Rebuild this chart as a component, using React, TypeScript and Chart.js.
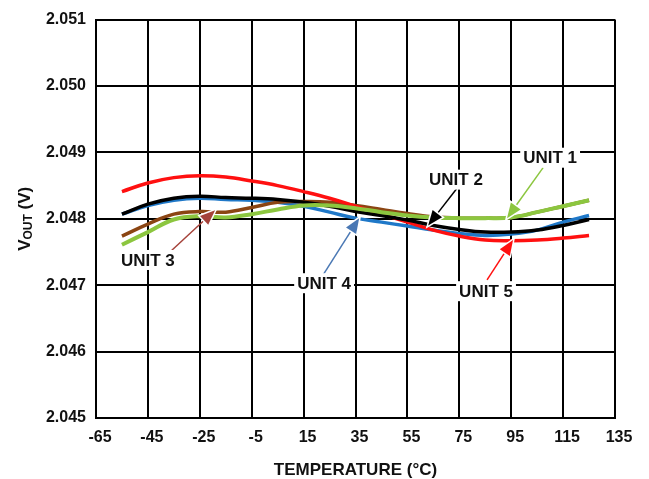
import React, { useEffect, useRef } from "react";
import { Chart, registerables } from "chart.js";

Chart.register(...registerables);

// Output voltage vs. temperature for five units
const temperatures = [-55, -45, -35, -25, -15, -5, 5, 15, 25, 35, 45, 55, 65, 75, 85, 95, 105, 115, 125];

const unit1 = [2.04761, 2.0478, 2.04799, 2.04804, 2.04802, 2.04807, 2.04814, 2.0482, 2.0482, 2.04816, 2.0481, 2.04805, 2.04802, 2.04801, 2.04801, 2.04802, 2.0481, 2.04819, 2.04828];
const unit2 = [2.04807, 2.04822, 2.04831, 2.04834, 2.04832, 2.04831, 2.04829, 2.04825, 2.04819, 2.04811, 2.04805, 2.04798, 2.0479, 2.04784, 2.0478, 2.0478, 2.04783, 2.0479, 2.04799];
const unit3 = [2.04774, 2.04792, 2.04807, 2.04811, 2.0481, 2.04817, 2.04825, 2.04826, 2.04825, 2.0482, 2.04814, 2.04808, 2.04803, 2.04801, 2.04801, 2.04802, 2.0481, 2.04819, 2.04828];
const unit4 = [2.04807, 2.0482, 2.04828, 2.04831, 2.04829, 2.04828, 2.04825, 2.04819, 2.0481, 2.04801, 2.04795, 2.04789, 2.04783, 2.04778, 2.04775, 2.04777, 2.04783, 2.04795, 2.04805];
const unit5 = [2.04841, 2.04854, 2.04862, 2.04865, 2.04863, 2.04857, 2.0485, 2.04841, 2.04831, 2.04819, 2.04807, 2.04795, 2.04783, 2.04774, 2.04768, 2.04767, 2.04768, 2.04771, 2.04775];

const xTicks = [-65, -45, -25, -5, 15, 35, 55, 75, 95, 115, 135];
const yTicks = [2.045, 2.046, 2.047, 2.048, 2.049, 2.05, 2.051];

// Callout labels: text, label centre, arrow tail, arrow tip (temperature, volts)
const calloutNames = ["UNIT 1", "UNIT 2", "UNIT 3", "UNIT 4", "UNIT 5"];
const calloutLabelAt = [[110, 2.04892], [73.7, 2.04859], [-45, 2.04738], [22.9, 2.04703], [85.3, 2.04691]];
const calloutTail = [[107.3, 2.04877], [74.5, 2.04848], [-36.5, 2.0475], [22.1, 2.04713], [85.7, 2.04708]];
const calloutTip = [[93.4, 2.04801], [63, 2.0479], [-19.1, 2.04813], [36.4, 2.04801], [95.7, 2.04768]];
const calloutColors = ["#8cc63f", "#000000", "#a5423a", "#4a78b4", "#ff1010"];

const FONT = '"Liberation Sans", Arial, Helvetica, sans-serif';

const calloutPlugin = {
  id: "callouts",
  afterDatasetsDraw(chart: any) {
    const { ctx } = chart;
    const xs = chart.scales.x;
    const ys = chart.scales.y;
    ctx.save();
    calloutNames.forEach((name, i) => {
      const color = calloutColors[i];
      const sx = xs.getPixelForValue(calloutTail[i][0]);
      const sy = ys.getPixelForValue(calloutTail[i][1]);
      const tx = xs.getPixelForValue(calloutTip[i][0]);
      const ty = ys.getPixelForValue(calloutTip[i][1]);
      const ang = Math.atan2(ty - sy, tx - sx);
      const dx = Math.cos(ang);
      const dy = Math.sin(ang);
      const L = 15;
      const W = 6;
      const bx = tx - dx * L;
      const by = ty - dy * L;
      // shaft
      ctx.strokeStyle = color;
      ctx.lineWidth = 1.5;
      ctx.beginPath();
      ctx.moveTo(sx, sy);
      ctx.lineTo(bx + dx * 2, by + dy * 2);
      ctx.stroke();
      // head
      ctx.beginPath();
      ctx.moveTo(tx, ty);
      ctx.lineTo(bx - dy * W, by + dx * W);
      ctx.lineTo(bx + dy * W, by - dx * W);
      ctx.closePath();
      ctx.strokeStyle = "#ffffff";
      ctx.lineWidth = 3;
      ctx.lineJoin = "miter";
      ctx.stroke();
      ctx.fillStyle = color;
      ctx.fill();

      // label with white backing
      const lx = xs.getPixelForValue(calloutLabelAt[i][0]);
      const ly = ys.getPixelForValue(calloutLabelAt[i][1]);
      ctx.font = `bold 17px ${FONT}`;
      const w = ctx.measureText(name).width;
      ctx.fillStyle = "#ffffff";
      ctx.fillRect(lx - w / 2 - 3, ly - 10, w + 6, 20);
      ctx.fillStyle = "#111111";
      ctx.textAlign = "center";
      ctx.textBaseline = "middle";
      ctx.fillText(name, lx, ly + 1);
    });
    ctx.restore();
  },
};

const axisTitlePlugin = {
  id: "axisTitles",
  afterDraw(chart: any) {
    const { ctx, chartArea } = chart;
    ctx.save();
    ctx.fillStyle = "#111111";
    // x title
    ctx.font = `bold 17px ${FONT}`;
    ctx.textAlign = "center";
    ctx.textBaseline = "alphabetic";
    ctx.fillText("TEMPERATURE (°C)", (chartArea.left + chartArea.right) / 2, 475);

    // y title with subscript, rotated
    const cy = (chartArea.top + chartArea.bottom) / 2;
    ctx.translate(30, cy);
    ctx.rotate(-Math.PI / 2);
    const big = `bold 17px ${FONT}`;
    const small = `bold 12px ${FONT}`;
    ctx.font = big;
    const wV = ctx.measureText("V").width;
    const wTail = ctx.measureText(" (V)").width;
    ctx.font = small;
    const wSub = ctx.measureText("OUT").width;
    const total = wV + wSub + wTail;
    let x0 = -total / 2;
    ctx.textAlign = "left";
    ctx.font = big;
    ctx.fillText("V", x0, 0);
    x0 += wV;
    ctx.font = small;
    ctx.fillText("OUT", x0, 2);
    x0 += wSub;
    ctx.font = big;
    ctx.fillText(" (V)", x0, 0);
    ctx.restore();
  },
};

export default function App() {
  const canvasRef = useRef<HTMLCanvasElement | null>(null);

  useEffect(() => {
    if (!canvasRef.current) return;
    const line = (label: string, data: number[], color: string, order: number, width = 3.5) => ({
      label,
      data: temperatures.map((t, i) => ({ x: t, y: data[i] })),
      borderColor: color,
      backgroundColor: color,
      borderWidth: width,
      pointRadius: 0,
      tension: 0.4,
      fill: false,
      order,
    });

    const chart = new Chart(canvasRef.current, {
      type: "line",
      data: {
        datasets: [
          line("UNIT 1", unit1, "#8cc63f", 1, 4),
          line("UNIT 2", unit2, "#000000", 2),
          line("UNIT 5", unit5, "#ff1010", 3),
          line("UNIT 3", unit3, "#8b4513", 4),
          line("UNIT 4", unit4, "#1f78c8", 5),
        ],
      },
      options: {
        animation: false,
        responsive: false,
        maintainAspectRatio: false,
        layout: { padding: { left: 0, right: 34, top: 15, bottom: 0 } },
        plugins: {
          legend: { display: false },
          tooltip: { enabled: false },
          title: { display: false },
        },
        scales: {
          x: {
            type: "linear",
            min: -65,
            max: 135,
            afterBuildTicks: (scale: any) => {
              scale.ticks = xTicks.map((v) => ({ value: v }));
            },
            afterFit: (scale: any) => {
              scale.height = 61;
            },
            grid: { color: "#000000", lineWidth: 2, drawTicks: false },
            border: { display: true, color: "#000000", width: 2 },
            ticks: {
              padding: 10,
              labelOffset: 4,
              maxRotation: 0,
              autoSkip: false,
              color: "#111111",
              font: { family: FONT, size: 16, weight: "bold" },
              callback: (v: any) => String(v),
            },
          },
          y: {
            type: "linear",
            min: 2.045,
            max: 2.051,
            afterBuildTicks: (scale: any) => {
              scale.ticks = yTicks.map((v) => ({ value: v }));
            },
            afterFit: (scale: any) => {
              scale.width = 96;
            },
            grid: { color: "#000000", lineWidth: 2, drawTicks: false },
            border: { display: true, color: "#000000", width: 2 },
            ticks: {
              padding: 10,
              autoSkip: false,
              color: "#111111",
              font: { family: FONT, size: 16, weight: "bold" },
              callback: (v: any) => Number(v).toFixed(3),
            },
          },
        },
      } as any,
      plugins: [calloutPlugin, axisTitlePlugin],
    });

    return () => chart.destroy();
  }, []);

  return (
    <div style={{ position: "fixed", left: 0, top: 0, width: 649, height: 479, background: "#ffffff" }}>
      <canvas ref={canvasRef} width={649} height={479} style={{ display: "block" }} />
    </div>
  );
}
